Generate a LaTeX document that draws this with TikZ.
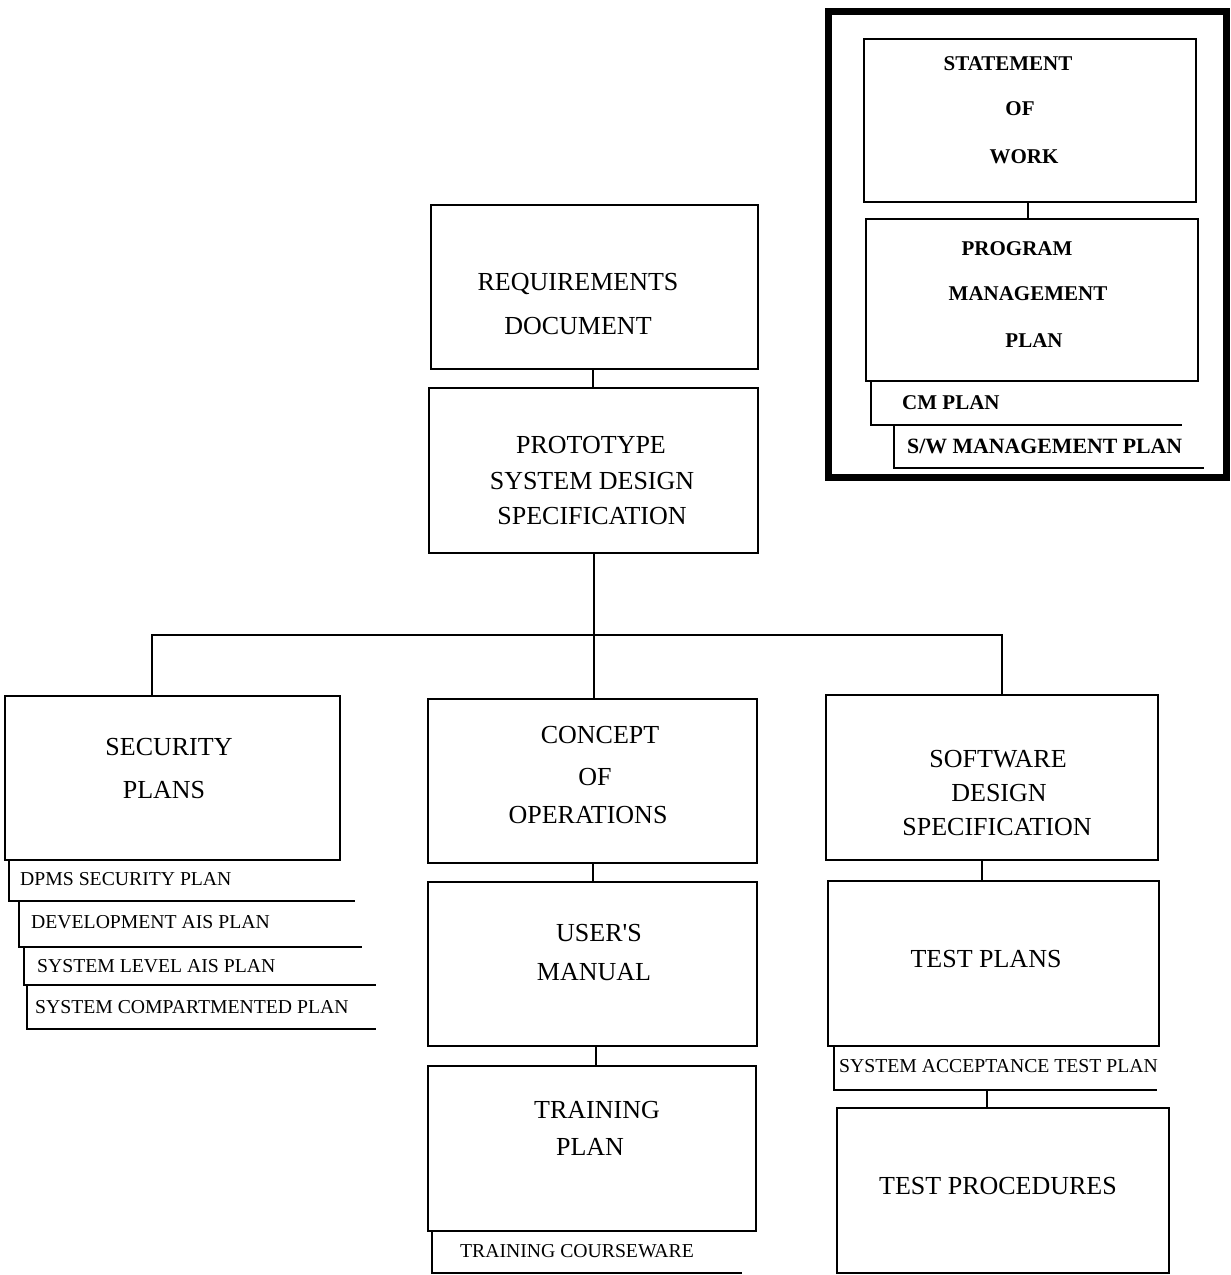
\documentclass[tikz,border=0pt]{standalone}
\usepackage{fontspec}
\setmainfont{Liberation Serif}
\usetikzlibrary{calc}

\tikzset{
  box/.style={draw, line width=2.2pt, inner sep=0pt},
  frame/.style={draw, line width=7pt, inner sep=0pt},
  conn/.style={line width=2pt},
  tab/.style={line width=2.4pt},
  big/.style={anchor=base, inner sep=0pt, font=\fontsize{26}{26}\selectfont},
  head/.style={anchor=base, inner sep=0pt, font=\bfseries\fontsize{21}{21}\selectfont},
  small/.style={anchor=base west, inner sep=0pt, font=\fontsize{19.7}{19.7}\selectfont},
}

\begin{document}
\begin{tikzpicture}[x=1pt,y=-1pt]
\useasboundingbox (0,0) rectangle (1231,1275);

% ---- contract documents (framed group, top right) ----
\node[frame, minimum width=398pt, minimum height=466pt] (group) at (1027,244) {};
\node[box, minimum width=332pt, minimum height=163pt] (sow) at (1030,120.5) {};
\node[box, minimum width=332pt, minimum height=162pt] (pmp) at (1032,300) {};
\node[head] (sow1) at (1008,70) {STATEMENT};
\node[head] (sow2) at (1020,115) {OF};
\node[head] (sow3) at (1024,163) {WORK};
\node[head] (pmp1) at (1017,255) {PROGRAM};
\node[head] (pmp2) at (1028,300) {MANAGEMENT};
\node[head] (pmp3) at (1034,347) {PLAN};
\draw[conn] ([xshift=-2pt]sow.south) -- ([xshift=-2pt]sow.south |- pmp.north);
% attached plans
\coordinate (cmTop) at (871,381);
\coordinate (swTop) at (894,425);
\draw[tab] (cmTop) |- (1182,425);
\draw[tab] (swTop) |- (1204,468);
\node[head, anchor=base west] (cm) at (902,409) {CM PLAN};
\node[head, anchor=base west, font=\bfseries\fontsize{21.8}{21.8}\selectfont] (swm) at (907,453) {S/W MANAGEMENT PLAN};

% ---- main chain ----
\node[box, minimum width=327pt, minimum height=164pt] (req) at (594.5,287) {};
\node[big] (req1) at (578,290) {REQUIREMENTS};
\node[big] (req2) at (578,334) {DOCUMENT};

\node[box, minimum width=329pt, minimum height=165pt] (proto) at (593.5,470.5) {};
\node[big] (pr1) at (591,453) {PROTOTYPE};
\node[big] (pr2) at (592,489) {SYSTEM DESIGN};
\node[big] (pr3) at (592,524) {SPECIFICATION};

\draw[conn] ([xshift=-1.5pt]req.south) -- ([xshift=-1.5pt]req.south |- proto.north);

% ---- security branch ----
\node[box, minimum width=335pt, minimum height=164pt] (sec) at (172.5,778) {};
\node[big] (sec1) at (169,755) {SECURITY};
\node[big] (sec2) at (164,798) {PLANS};
\draw[tab] (9,860) |- (355,901);
\draw[tab] (19,901) |- (362,947);
\draw[tab] (24,947) |- (376,985);
\draw[tab] (27,985) |- (376,1029);
\node[small] (dpms) at (20,885) {DPMS SECURITY PLAN};
\node[small] (dev) at (31,928) {DEVELOPMENT AIS PLAN};
\node[small] (sla) at (37,972) {SYSTEM LEVEL AIS PLAN};
\node[small] (scp) at (35,1013) {SYSTEM COMPARTMENTED PLAN};

% ---- operations branch ----
\node[box, minimum width=329pt, minimum height=164pt] (conc) at (592.5,781) {};
\node[big] (co1) at (600,743) {CONCEPT};
\node[big] (co2) at (595,785) {OF};
\node[big] (co3) at (588,823) {OPERATIONS};

\node[box, minimum width=329pt, minimum height=164pt] (users) at (592.5,964) {};
\node[big] (us1) at (599,941) {USER\textquotesingle S};
\node[big] (us2) at (594,980) {MANUAL};

\node[box, minimum width=328pt, minimum height=165pt] (train) at (592,1148.5) {};
\node[big] (tr1) at (597,1118) {TRAINING};
\node[big] (tr2) at (590,1155) {PLAN};
\draw[tab] (432,1231) |- (742,1273);
\node[small] (tcw) at (460,1257) {TRAINING COURSEWARE};

\draw[conn] (conc.south) -- (conc.south |- users.north);
\draw[conn] ([xshift=3.5pt]users.south) -- ([xshift=3.5pt]users.south |- train.north);

% ---- software branch ----
\node[box, minimum width=332pt, minimum height=165pt] (swd) at (992,777.5) {};
\node[big] (sw1) at (998,767) {SOFTWARE};
\node[big] (sw2) at (999,801) {DESIGN};
\node[big] (sw3) at (997,835) {SPECIFICATION};

\node[box, minimum width=331pt, minimum height=165pt] (tp) at (993.5,963.5) {};
\node[big] (tp1) at (986,967) {TEST PLANS};
\draw[tab] (834,1046) |- (1157,1090);
\coordinate (satBot) at (987,1090);
\node[small] (sat) at (839,1072) {SYSTEM ACCEPTANCE TEST PLAN};

\node[box, minimum width=332pt, minimum height=165pt] (proc) at (1003,1190.5) {};
\node[big] (pc1) at (998,1194) {TEST PROCEDURES};

\draw[conn] ([xshift=-10pt]swd.south) -- ([xshift=-10pt]swd.south |- tp.north);
\draw[conn] (satBot) -- (satBot |- proc.north);

% ---- distribution bus below the design specification ----
\coordinate (busL) at (152,635);
\coordinate (busR) at (1002,635);
\draw[conn] (proto.south) -- (proto.south |- conc.north);
\draw[conn] (busL |- sec.north) -- (busL) -- (busR) -- (busR |- swd.north);
\end{tikzpicture}
\end{document}
